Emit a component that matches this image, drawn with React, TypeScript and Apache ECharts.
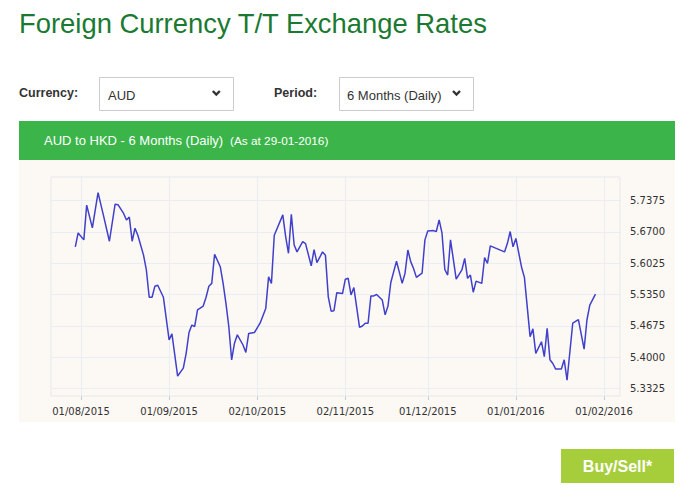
import React, { useEffect, useRef } from "react";
import * as echarts from "echarts";

const dates: string[] = [
  "2015-07-30","2015-07-31","2015-08-02","2015-08-03","2015-08-05","2015-08-07","2015-08-09","2015-08-11","2015-08-13","2015-08-14",
  "2015-08-16","2015-08-17","2015-08-18","2015-08-19","2015-08-20","2015-08-21","2015-08-23","2015-08-24","2015-08-25","2015-08-26",
  "2015-08-27","2015-08-28","2015-08-30","2015-09-01","2015-09-02","2015-09-04","2015-09-06","2015-09-07","2015-09-08","2015-09-09",
  "2015-09-10","2015-09-11","2015-09-13","2015-09-14","2015-09-15","2015-09-16","2015-09-17","2015-09-19","2015-09-20","2015-09-21",
  "2015-09-22","2015-09-23","2015-09-24","2015-09-25","2015-09-27","2015-09-28","2015-09-29","2015-10-01","2015-10-03","2015-10-05",
  "2015-10-06","2015-10-07","2015-10-08","2015-10-11","2015-10-12","2015-10-13","2015-10-14","2015-10-15","2015-10-16","2015-10-18",
  "2015-10-19","2015-10-21","2015-10-22","2015-10-23","2015-10-25","2015-10-26","2015-10-27","2015-10-28","2015-10-29","2015-10-30",
  "2015-11-01","2015-11-02","2015-11-03","2015-11-04","2015-11-05","2015-11-07","2015-11-08","2015-11-09","2015-11-10","2015-11-11",
  "2015-11-12","2015-11-13","2015-11-15","2015-11-16","2015-11-17","2015-11-18","2015-11-20","2015-11-22","2015-11-23","2015-11-24",
  "2015-11-25","2015-11-26","2015-11-27","2015-11-29","2015-11-30","2015-12-01","2015-12-03","2015-12-04","2015-12-05","2015-12-06",
  "2015-12-07","2015-12-08","2015-12-09","2015-12-11","2015-12-13","2015-12-14","2015-12-15","2015-12-16","2015-12-17","2015-12-18",
  "2015-12-20","2015-12-21","2015-12-22","2015-12-23","2015-12-28","2015-12-29","2015-12-30","2015-12-31","2016-01-01","2016-01-03",
  "2016-01-04","2016-01-06","2016-01-07","2016-01-08","2016-01-10","2016-01-11","2016-01-12","2016-01-13","2016-01-14","2016-01-15",
  "2016-01-17","2016-01-18","2016-01-19","2016-01-21","2016-01-23","2016-01-25","2016-01-26","2016-01-27","2016-01-29"
];

const rates: number[] = [
  5.638,5.668,5.653,5.728,5.679,5.755,5.703,5.650,5.730,5.729,
  5.710,5.696,5.702,5.650,5.678,5.663,5.620,5.588,5.529,5.529,
  5.553,5.555,5.529,5.437,5.450,5.359,5.376,5.408,5.453,5.469,
  5.466,5.502,5.510,5.529,5.553,5.559,5.622,5.595,5.559,5.516,
  5.466,5.394,5.430,5.448,5.426,5.410,5.451,5.453,5.473,5.505,
  5.573,5.559,5.663,5.707,5.660,5.624,5.708,5.642,5.627,5.649,
  5.645,5.597,5.632,5.604,5.627,5.620,5.530,5.499,5.500,5.539,
  5.537,5.568,5.570,5.534,5.550,5.464,5.467,5.473,5.473,5.532,
  5.532,5.535,5.523,5.491,5.510,5.561,5.607,5.559,5.581,5.631,
  5.606,5.591,5.572,5.581,5.653,5.672,5.673,5.671,5.696,5.668,
  5.589,5.577,5.653,5.568,5.588,5.613,5.570,5.577,5.540,5.564,
  5.559,5.615,5.602,5.640,5.627,5.645,5.671,5.638,5.656,5.594,
  5.572,5.444,5.461,5.408,5.433,5.401,5.462,5.394,5.386,5.374,
  5.374,5.394,5.350,5.473,5.481,5.417,5.480,5.512,5.536
];

const xTickDates: string[] = ["2015-08-01","2015-09-01","2015-10-02","2015-11-02","2015-12-01","2016-01-01","2016-02-01"];
const yTickValues: number[] = [5.3325, 5.4, 5.4675, 5.535, 5.6025, 5.67, 5.7375];

const toTs = (s: string) => {
  const [y, m, d] = s.split("-").map(Number);
  return Date.UTC(y, m - 1, d);
};
const DAY = 86400000;
const pad = (n: number) => (n < 10 ? "0" + n : "" + n);
const fmtDate = (v: number) => {
  const d = new Date(v);
  return pad(d.getUTCDate()) + "/" + pad(d.getUTCMonth() + 1) + "/" + d.getUTCFullYear();
};

export default function App() {
  const ref = useRef<HTMLDivElement>(null);
  useEffect(() => {
    if (!ref.current) return;
    const chart = echarts.init(ref.current, undefined, { renderer: "svg" });
    const base = toTs("2015-08-01");
    const sans = "'Liberation Sans', Arial, Helvetica, sans-serif";
    const axisFont = "'DejaVu Sans', Verdana, sans-serif";
    chart.setOption({
      animation: false,
      backgroundColor: "#ffffff",
      grid: {
        left: 51,
        right: 63,
        top: 177,
        bottom: 106,
        show: true,
        borderColor: "#e5e9ef",
        borderWidth: 1,
        backgroundColor: "transparent",
        z: 1,
      },
      xAxis: {
        type: "value",
        min: base - 10.55 * DAY,
        max: base + 189.63 * DAY,
        axisLine: { show: false },
        axisTick: {
          show: true,
          length: 4,
          lineStyle: { color: "#c8ccd2" },
          customValues: xTickDates.map(toTs),
        },
        axisLabel: {
          customValues: xTickDates.map(toTs),
          formatter: (v: number) => fmtDate(v),
          color: "#333333",
          fontFamily: axisFont,
          fontSize: 10,
          margin: 10,
        },
        splitLine: { show: true, lineStyle: { color: "#e9eef5", width: 1 } },
      },
      yAxis: {
        type: "value",
        position: "right",
        min: 5.3159,
        max: 5.7887,
        axisLine: { show: false },
        axisTick: { show: false, customValues: yTickValues },
        axisLabel: {
          customValues: yTickValues,
          formatter: (v: number) => v.toFixed(4),
          color: "#333333",
          fontFamily: axisFont,
          fontSize: 10,
          margin: 10,
        },
        splitLine: { show: true, lineStyle: { color: "#e9eef5", width: 1 } },
      },
      series: [
        {
          type: "line",
          data: dates.map((d, i) => [toTs(d), rates[i]]),
          showSymbol: false,
          symbol: "none",
          lineStyle: { color: "#4040cc", width: 1.5 },
          z: 3,
        },
      ],
      graphic: [
        { type: "rect", z: -10, silent: true, shape: { x: 19, y: 160, width: 656, height: 262 }, style: { fill: "#fcf8f3" } },
        { type: "rect", z: -10, silent: true, shape: { x: 19, y: 121, width: 656, height: 39 }, style: { fill: "#3bb54a" } },
        { type: "text", x: 19, y: 23, style: { text: "Foreign Currency T/T Exchange Rates", fill: "#1b7a32", font: `27.4px ${sans}`, verticalAlign: "middle" } },
        { type: "text", x: 19, y: 93, style: { text: "Currency:", fill: "#333333", font: `bold 12.5px ${sans}`, verticalAlign: "middle" } },
        { type: "rect", shape: { x: 99.5, y: 77.5, width: 134, height: 33 }, style: { fill: "#ffffff", stroke: "#cccccc", lineWidth: 1 } },
        { type: "text", x: 108, y: 95, style: { text: "AUD", fill: "#333333", font: `13px ${sans}`, verticalAlign: "middle" } },
        { type: "polyline", shape: { points: [[212.8, 91], [216.3, 94.5], [219.8, 91]] }, style: { stroke: "#333333", lineWidth: 2.4, fill: "none" } },
        { type: "text", x: 274, y: 93, style: { text: "Period:", fill: "#333333", font: `bold 12.5px ${sans}`, verticalAlign: "middle" } },
        { type: "rect", shape: { x: 339.5, y: 77.5, width: 134, height: 33 }, style: { fill: "#ffffff", stroke: "#cccccc", lineWidth: 1 } },
        { type: "text", x: 347, y: 95, style: { text: "6 Months (Daily)", fill: "#333333", font: `13px ${sans}`, verticalAlign: "middle" } },
        { type: "polyline", shape: { points: [[453, 91], [456.5, 94.5], [460, 91]] }, style: { stroke: "#333333", lineWidth: 2.4, fill: "none" } },
        { type: "text", x: 44, y: 140.5, style: { text: "AUD to HKD - 6 Months (Daily)", fill: "#ffffff", font: `13px ${sans}`, verticalAlign: "middle" } },
        { type: "text", x: 230, y: 141, style: { text: "(As at 29-01-2016)", fill: "#ffffff", font: `11.8px ${sans}`, verticalAlign: "middle" } },
        { type: "rect", shape: { x: 561, y: 449, width: 113, height: 34 }, style: { fill: "#a6cd3a" } },
        { type: "text", x: 617.5, y: 466, style: { text: "Buy/Sell*", fill: "#ffffff", font: `bold 16px ${sans}`, align: "center", verticalAlign: "middle" } },
      ],
    });
    return () => chart.dispose();
  }, []);
  return (
    <div style={{ position: "absolute", left: 0, top: 0, width: 683, height: 502, background: "#ffffff" }}>
      <div ref={ref} style={{ width: 683, height: 502 }} />
    </div>
  );
}
